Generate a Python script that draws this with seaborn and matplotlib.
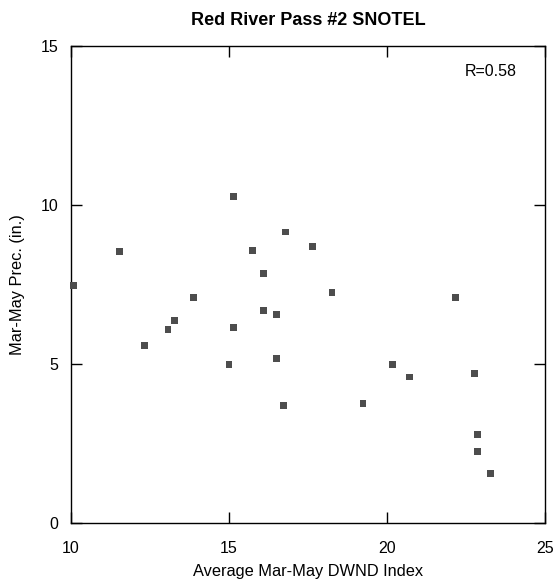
import matplotlib
matplotlib.use("Agg")
import matplotlib.pyplot as plt
import seaborn as sns
import pandas as pd

# Spring (Mar-May) DWND index vs. precipitation at Red River Pass #2 SNOTEL
dwnd_index = [10.09, 11.52, 12.34, 13.07, 13.29, 13.89, 15.00, 15.13, 15.13,
              15.73, 16.08, 16.08, 16.49, 16.49, 16.71, 16.80, 17.63, 18.26,
              19.24, 20.16, 20.70, 22.18, 22.78, 22.85, 22.85, 23.29]
precip_in = [7.48, 8.55, 5.57, 6.07, 6.38, 7.08, 4.97, 10.28, 6.16,
             8.58, 7.86, 6.67, 6.57, 5.16, 3.68, 9.15, 8.68, 7.26,
             3.77, 4.97, 4.59, 7.08, 4.69, 2.77, 2.26, 1.57]
x_ticks = [10, 15, 20, 25]
y_ticks = [0, 5, 10, 15]

df = pd.DataFrame({"dwnd": dwnd_index, "precip": precip_in})

sns.set_theme(style="white")
plt.rcParams["font.family"] = ["Liberation Sans", "DejaVu Sans"]
plt.rcParams.update({"text.color": "black", "axes.labelcolor": "black",
                     "xtick.color": "black", "ytick.color": "black"})

fig = plt.figure(figsize=(5.56, 5.85), dpi=100)
ax = fig.add_axes([0.1277, 0.106, 0.8525, 0.8154])

sns.scatterplot(data=df, x="dwnd", y="precip", ax=ax, marker="s", s=25,
                color="#4d4d4d", edgecolor="none", linewidth=0, legend=False,
                clip_on=False, zorder=3)

ax.set_xlim(10, 25)
ax.set_ylim(0, 15)
ax.set_xticks(x_ticks)
ax.set_yticks(y_ticks)
ax.tick_params(direction="in", length=8, width=1, colors="black",
               top=True, right=True, bottom=True, left=True,
               labelsize=11.5)
ax.tick_params(axis="x", pad=13)
ax.tick_params(axis="y", pad=9)
for side in ["left", "right", "top", "bottom"]:
    ax.spines[side].set_visible(True)
    ax.spines[side].set_color("black")
    ax.spines[side].set_linewidth(1)

ax.set_xlabel("Average Mar-May DWND Index", fontsize=11.8, labelpad=6)
ax.set_ylabel("Mar-May Prec. (in.)", fontsize=11.8, labelpad=11)
ax.set_title("Red River Pass #2 SNOTEL", fontsize=13, fontweight="bold", pad=15)
ax.text(0.941, 0.9465, "R=0.58", transform=ax.transAxes, ha="right",
        va="center", fontsize=11.5)

fig.savefig("out.png", dpi=100)
